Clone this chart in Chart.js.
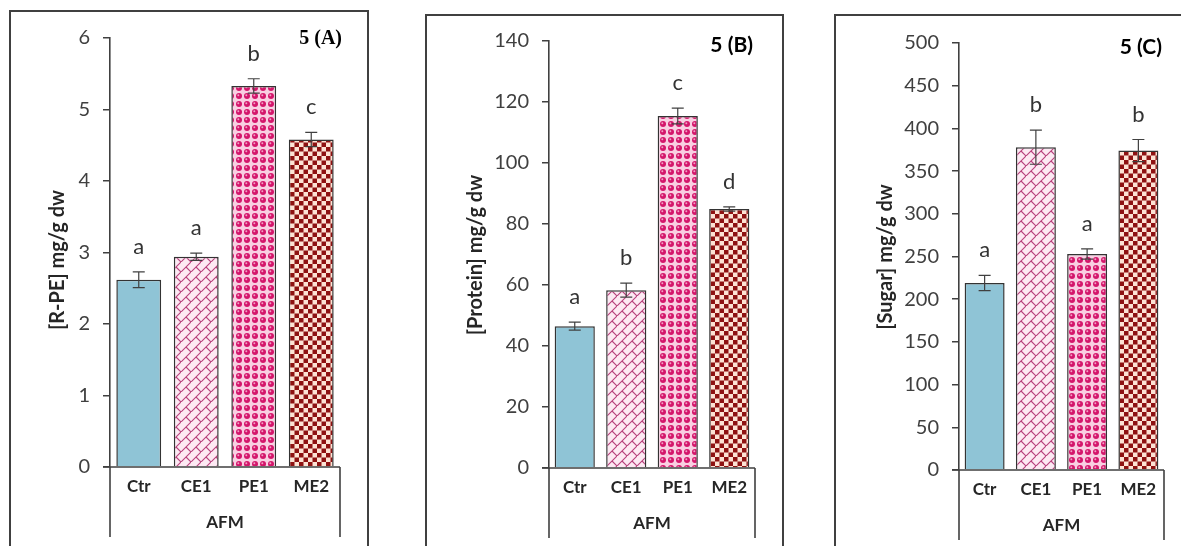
<!DOCTYPE html>
<html>
<head>
<meta charset="utf-8">
<script src="https://cdn.jsdelivr.net/npm/chart.js@4.4.1/dist/chart.umd.min.js"></script>
<style>
  body { margin: 0; background: #fff; width: 1181px; height: 546px; overflow: hidden; position: relative; }
  .box { position: absolute; border: 2px solid #404040; border-bottom: none; box-sizing: border-box; }
  canvas { position: absolute; }
</style>
</head>
<body>
<div class="box" style="left:9px;top:10px;width:360px;height:540px"></div>
<div class="box" style="left:425px;top:14px;width:359px;height:536px"></div>
<div class="box" style="left:834px;top:14px;width:360px;height:536px"></div>
<canvas id="chartA"></canvas>
<canvas id="chartB"></canvas>
<canvas id="chartC"></canvas>
<script>
// data
const categories = ['Ctr', 'CE1', 'PE1', 'ME2'];
const groupLabel = 'AFM';

const rpeValues = [2.62, 2.94, 5.33, 4.58];
const rpeErrors = [0.11, 0.05, 0.10, 0.10];
const rpeLetters = ['a', 'a', 'b', 'c'];

const proteinValues = [46.5, 58.3, 115.4, 84.9];
const proteinErrors = [1.3, 2.3, 2.6, 0.7];
const proteinLetters = ['a', 'b', 'c', 'd'];

const sugarValues = [219, 378, 253, 374];
const sugarErrors = [9, 20, 6, 13];
const sugarLetters = ['a', 'b', 'a', 'b'];

// fill patterns (solid blue, diagonal brick, spheres, checkerboard)
function makePattern(size, draw) {
    const c = document.createElement('canvas');
    c.width = size; c.height = size;
    draw(c.getContext('2d'), size);
    return c.getContext('2d').createPattern(c, 'repeat');
}

function patternFills() {
    const brick = makePattern(10, (g, s) => {
        g.fillStyle = '#fde9f3'; g.fillRect(0, 0, s, s);
        g.strokeStyle = '#b8417c'; g.lineWidth = 1.1;
        g.beginPath();
        g.moveTo(-1, s + 1); g.lineTo(s + 1, -1);
        g.moveTo(s / 2, s / 2); g.lineTo(s + 1, s + 1);
        g.stroke();
    });
    const spheres = makePattern(8, (g, s) => {
        g.fillStyle = '#f9cfe2'; g.fillRect(0, 0, s, s);
        g.fillStyle = '#d4166b';
        g.beginPath(); g.arc(4, 4, 3.0, 0, Math.PI * 2); g.fill();
        g.fillStyle = '#f0a0c4';
        g.beginPath(); g.arc(3.3, 3.3, 1.0, 0, Math.PI * 2); g.fill();
    });
    const checker = makePattern(9, (g, s) => {
        g.fillStyle = '#fde3d4'; g.fillRect(0, 0, s, s);
        g.fillStyle = '#8e1212';
        g.fillRect(0, 0, 4.5, 4.5); g.fillRect(4.5, 4.5, 4.5, 4.5);
    });
    return ['#8fc4d6', brick, spheres, checker];
}

const extras = {
    id: 'extras',
    afterDatasetsDraw(chart, args, o) {
        const { ctx, scales: { x, y } } = chart;
        const left = x.left, right = x.right, zero = y.getPixelForValue(0);
        ctx.save();
        // error bars + letters
        ctx.strokeStyle = '#404040';
        ctx.lineWidth = 1.2;
        o.values.forEach((v, i) => {
            const px = x.getPixelForValue(i);
            const hi = y.getPixelForValue(v + o.errors[i]);
            const lo = y.getPixelForValue(v - o.errors[i]);
            ctx.beginPath();
            ctx.moveTo(px, lo); ctx.lineTo(px, hi);
            ctx.moveTo(px - 6, hi); ctx.lineTo(px + 6, hi);
            ctx.moveTo(px - 6, lo); ctx.lineTo(px + 6, lo);
            ctx.stroke();
            ctx.fillStyle = '#333333';
            ctx.font = '22px Lato';
            ctx.textAlign = 'center';
            ctx.textBaseline = 'middle';
            ctx.fillText(o.letters[i], px, hi - 25);
        });
        // category axis box
        ctx.strokeStyle = '#404040';
        ctx.lineWidth = 1.6;
        ctx.beginPath();
        ctx.moveTo(left - 7, zero); ctx.lineTo(right, zero);
        ctx.moveTo(left, zero); ctx.lineTo(left, zero + 70);
        ctx.moveTo(right, zero); ctx.lineTo(right, zero + 70);
        ctx.stroke();
        ctx.fillStyle = '#262626';
        ctx.font = 'bold 17px Lato';
        ctx.textAlign = 'center';
        ctx.textBaseline = 'middle';
        ctx.fillText(groupLabel, (left + right) / 2, zero + 56);
        // y title
        ctx.save();
        ctx.translate(o.titleX, o.titleY);
        ctx.rotate(-Math.PI / 2);
        ctx.font = 'bold 20px Lato';
        ctx.fillText(o.title, 0, 0);
        ctx.restore();
        // panel tag
        ctx.font = o.tagFont;
        ctx.fillStyle = '#000';
        ctx.textAlign = 'right';
        ctx.fillText(o.tag, o.tagX, o.tagY);
        ctx.restore();
    }
};

function buildChart(id, p) {
    const cv = document.getElementById(id);
    const W = p.boxR - p.boxX, H = 546 - p.boxY;
    cv.width = W; cv.height = H;
    cv.style.left = p.boxX + 'px';
    cv.style.top = p.boxY + 'px';
    cv.style.width = W + 'px';
    cv.style.height = H + 'px';
    return new Chart(cv, {
        type: 'bar',
        data: {
            labels: categories,
            datasets: [{
                data: p.values,
                backgroundColor: patternFills(),
                borderColor: '#333333',
                borderWidth: 1.5,
                borderSkipped: 'bottom',
                barPercentage: 0.78,
                categoryPercentage: 1
            }]
        },
        options: {
            responsive: false,
            animation: false,
            layout: { padding: { left: 0, top: p.topY - p.boxY, right: W - (p.endX - p.boxX), bottom: 0 } },
            plugins: {
                legend: { display: false },
                tooltip: { enabled: false },
                extras: {
                    values: p.values, errors: p.errors, letters: p.letters,
                    title: p.title, titleX: p.titleX - p.boxX, titleY: p.titleY - p.boxY,
                    tag: p.tag, tagFont: p.tagFont, tagX: p.tagX - p.boxX, tagY: p.tagY - p.boxY
                }
            },
            scales: {
                x: {
                    afterFit: s => { s.height = H - (p.zeroY - p.boxY); },
                    grid: { display: false, drawTicks: false },
                    border: { display: false },
                    ticks: { color: '#262626', font: { family: 'Lato', size: 17, weight: 'bold' }, padding: 9 }
                },
                y: {
                    min: 0, max: p.max,
                    afterFit: s => { s.width = p.axisX - p.boxX; },
                    grid: { drawOnChartArea: false, tickLength: 7, color: '#404040', lineWidth: 1.5 },
                    border: { color: '#404040', width: 1.6 },
                    ticks: { stepSize: p.step, color: '#404040', font: { family: 'Lato', size: 20 }, padding: 13 }
                }
            }
        },
        plugins: [extras]
    });
}

buildChart('chartA', {
    boxX: 11, boxY: 12, boxR: 367, axisX: 110, topY: 38, zeroY: 467, endX: 340, max: 6, step: 1,
    values: rpeValues, errors: rpeErrors, letters: rpeLetters,
    title: '[R-PE] mg/g dw', titleX: 58, titleY: 260,
    tag: '5 (A)', tagFont: 'bold 20px "Liberation Serif"', tagX: 342, tagY: 39
});
buildChart('chartB', {
    boxX: 427, boxY: 16, boxR: 782, axisX: 549, topY: 41, zeroY: 468, endX: 755, max: 140, step: 20,
    values: proteinValues, errors: proteinErrors, letters: proteinLetters,
    title: '[Protein] mg/g dw', titleX: 476, titleY: 255,
    tag: '5 (B)', tagFont: 'bold 21px Lato', tagX: 753, tagY: 45
});
buildChart('chartC', {
    boxX: 836, boxY: 16, boxR: 1181, axisX: 959, topY: 43, zeroY: 470, endX: 1164, max: 500, step: 50,
    values: sugarValues, errors: sugarErrors, letters: sugarLetters,
    title: '[Sugar] mg/g dw', titleX: 886, titleY: 257,
    tag: '5 (C)', tagFont: 'bold 21px Lato', tagX: 1162, tagY: 47
});
</script>
</body>
</html>
